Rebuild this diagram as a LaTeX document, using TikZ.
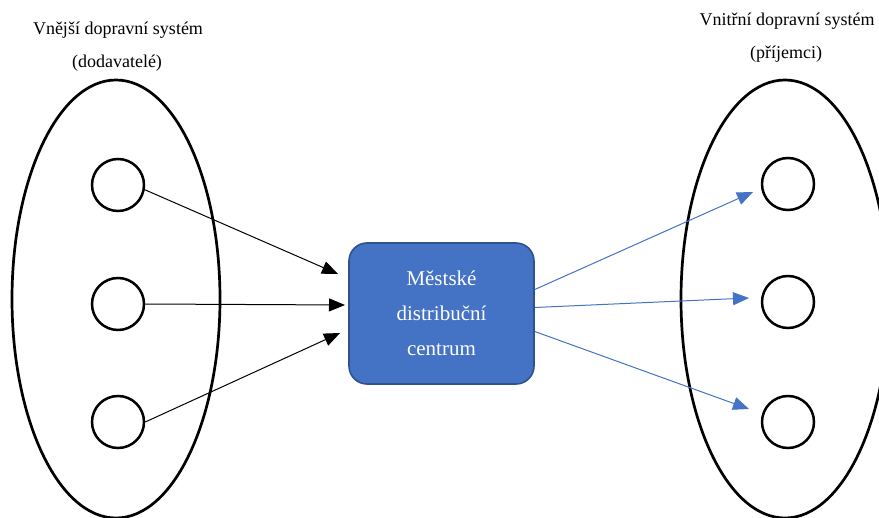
\documentclass[tikz,border=0pt]{standalone}
\usepackage{fontspec}
\setmainfont{Liberation Serif}
\usetikzlibrary{arrows.meta,calc,shapes.geometric}
\definecolor{boxblue}{HTML}{4472C4}
\definecolor{boxedge}{HTML}{2F528F}
\begin{document}
\begin{tikzpicture}[x=1pt,y=-1pt,
  sysell/.style={draw,line width=2.7pt,ellipse,inner sep=0pt,minimum width=208pt,minimum height=438pt},
  member/.style={draw,line width=2.5pt,circle,inner sep=0pt,minimum size=52pt},
  title/.style={font=\fontsize{18}{22}\selectfont,inner sep=0pt},
  dcbox/.style={draw=boxedge,line width=1.6pt,fill=boxblue,rounded corners=18pt,minimum width=185pt,minimum height=141pt,inner sep=0pt,text=white,align=center,font=\fontsize{21}{35}\selectfont},
  blk/.style={draw=black,line width=1pt,-{Triangle[length=16pt,width=13pt]}},
  blu/.style={draw=boxblue,line width=1pt,-{Triangle[length=16pt,width=13pt]}}]
\useasboundingbox (0,0) rectangle (879,518);
\clip (0,0) rectangle (879,518);

\node[sysell] (outer) at (116,299) {};
\node[sysell] (inner) at (785,299) {};

\node[title] (t1) at (118,30) {Vnější dopravní systém};
\node[title] (t2) at (117,63) {(dodavatelé)};
\node[title] (t3) at (787,21) {Vnitřní dopravní systém};
\node[title] (t4) at (786,54) {(příjemci)};

\node[member] (l1) at (118,185) {};
\node[member] (l2) at (118,304) {};
\node[member] (l3) at (118,422) {};
\node[member] (r1) at (788,184) {};
\node[member] (r2) at (788,302) {};
\node[member] (r3) at (788,422) {};

\node[dcbox] (dc) at (441.5,313.5) {Městské\\distribuční\\centrum};

\coordinate (a1) at (338,274);
\coordinate (a2) at (345,305);
\coordinate (a3) at (340,333);
\coordinate (b1) at (753,192);
\coordinate (b2) at (749,298);
\coordinate (b3) at (749,409);

\draw[blk] (l1.-10) -- (a1);
\draw[blk] (l2.east) -- (a2);
\draw[blk] (l3.east) -- (a3);
\draw[blu] ($(dc.east)+(0,-24)$) -- (b1);
\draw[blu] ($(dc.east)+(0,-6)$) -- (b2);
\draw[blu] ($(dc.east)+(0,18)$) -- (b3);
\end{tikzpicture}
\end{document}
